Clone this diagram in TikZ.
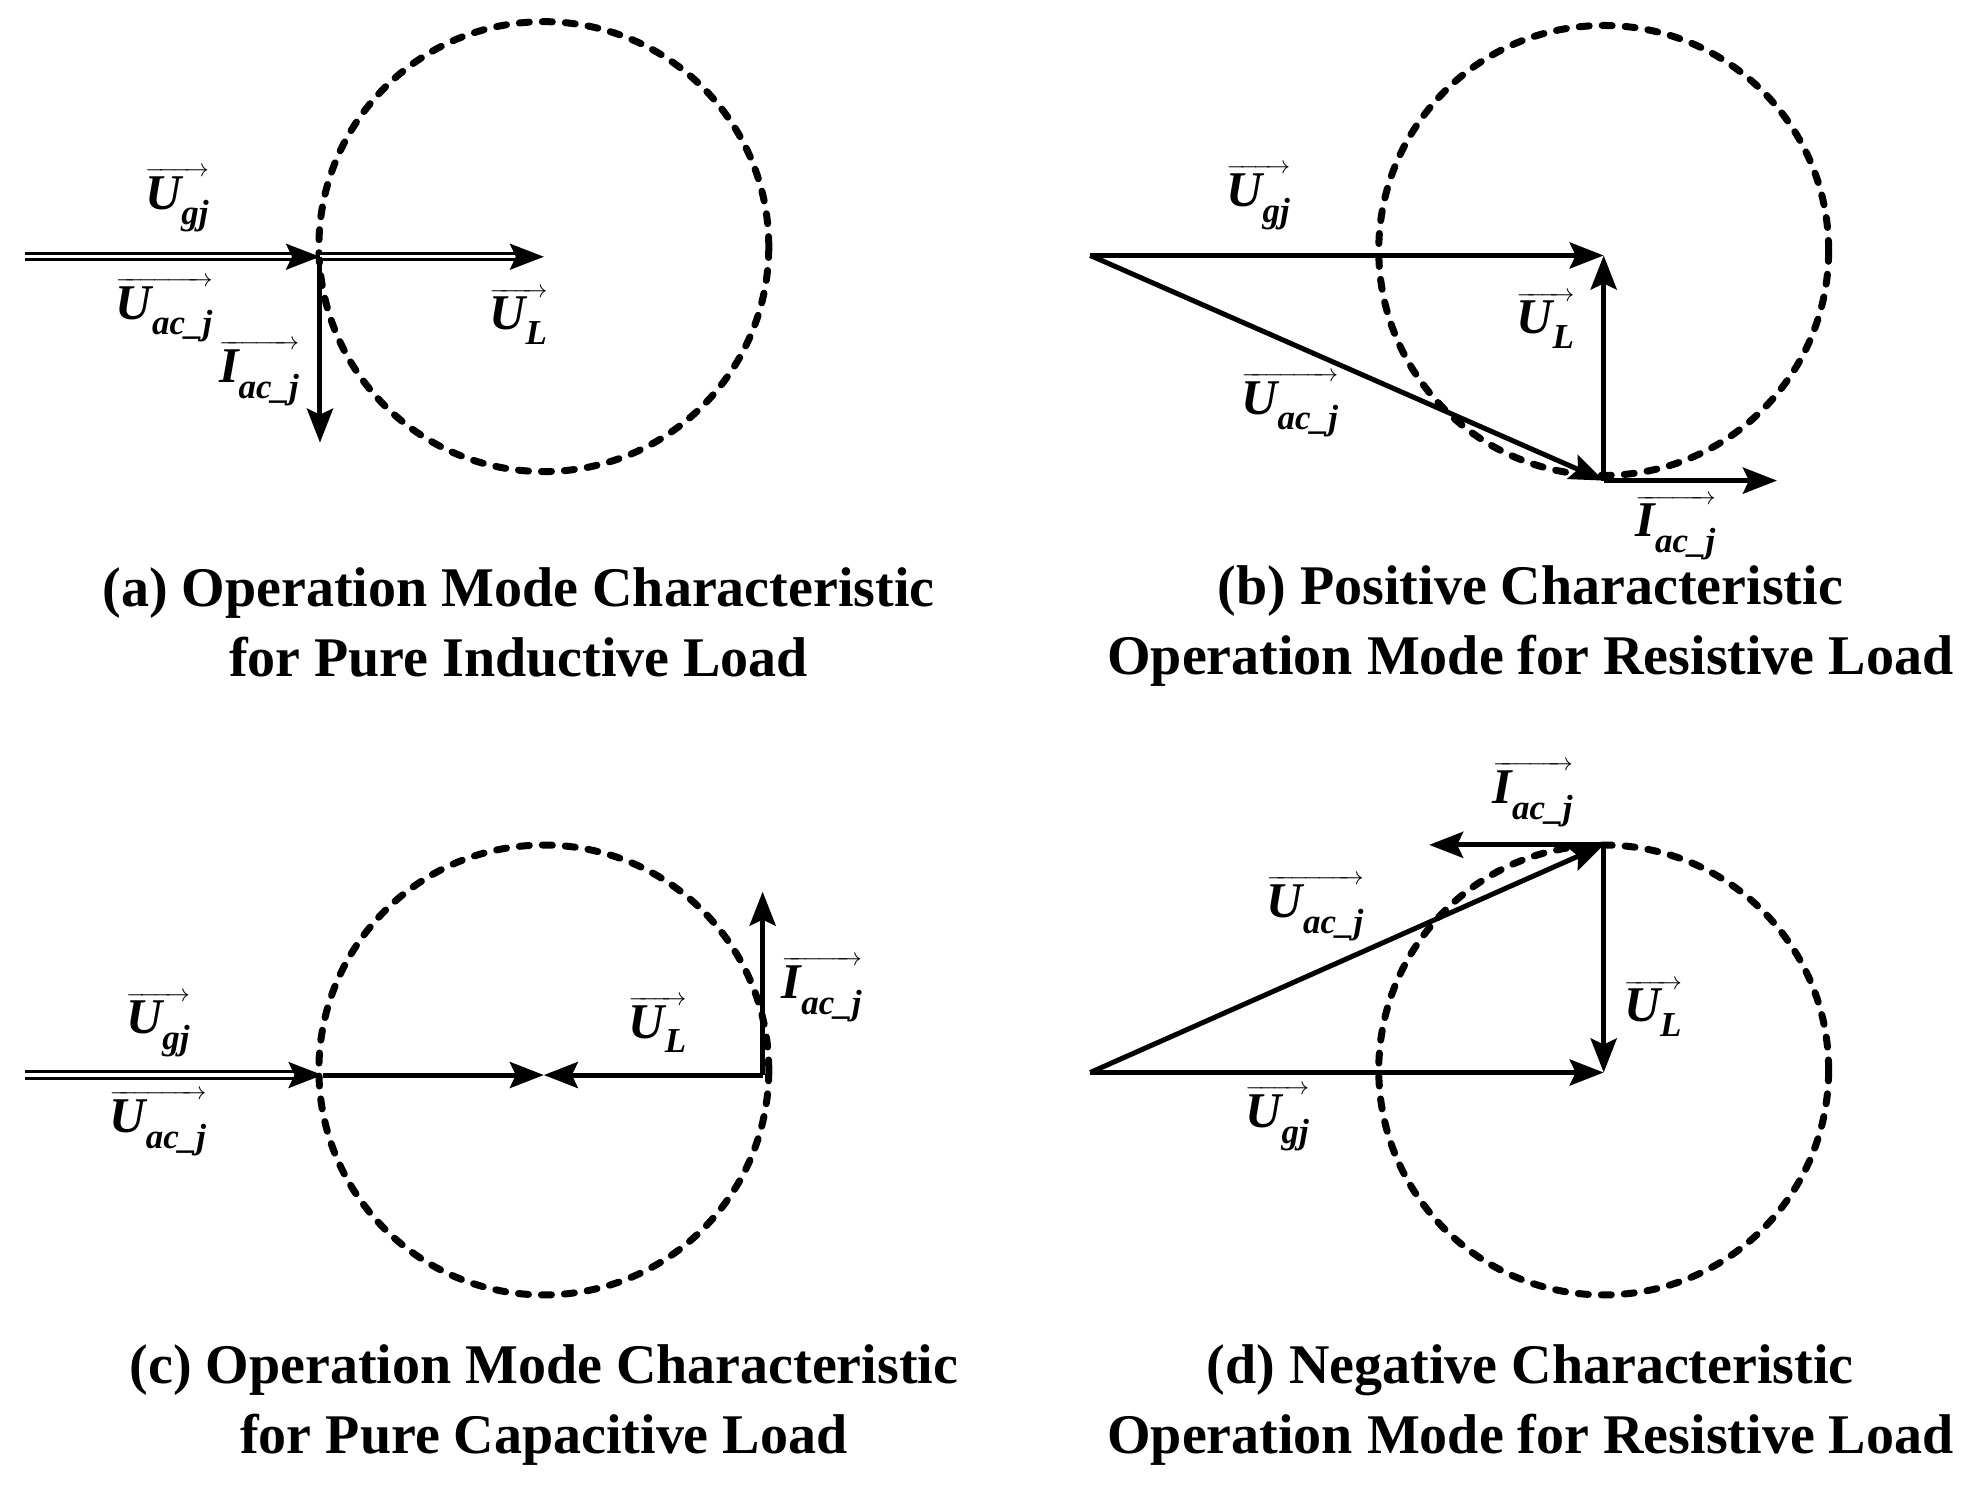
\documentclass[tikz,border=0pt]{standalone}
\usepackage{amsmath}
\usepackage{fontspec}
\setmainfont{Liberation Serif}
\usetikzlibrary{arrows.meta}
\newcommand\vlab[2]{$\overrightarrow{\textbf{\textit{#1}}_{\textbf{\textit{#2}}}}$}
\begin{document}
\begin{tikzpicture}[x=1.265pt,y=-1.265pt,
  vec/.style={line width=5pt,-{Stealth[length=34pt,width=26pt,inset=6pt]}},
  dvec/.style={line width=3pt,double,double distance=3.5pt,-{Stealth[length=34pt,width=26pt,inset=6pt]}},
  circ/.style={line width=7pt,dash pattern=on 10pt off 13pt,line cap=round},
  lab/.style={font=\fontsize{50}{56}\selectfont\bfseries\itshape,inner sep=0pt},
  captxt/.style={font=\fontsize{56}{70}\selectfont\bfseries,align=center,inner sep=0pt}]
\useasboundingbox (0,0) rectangle (1560,1179);
% (a)
\coordinate (a0) at (20,203); \coordinate (a1) at (253,203); \coordinate (a2) at (430,203); \coordinate (a3) at (253,350);
\node[circ,draw,circle,minimum size=450pt,inner sep=0pt] (ca) at (430,195) {};
\draw[dvec] (a0) -- (a1);
\draw[dvec] (a1) -- (a2);
\draw[vec] (a1) -- (a3);
\node[lab] (la1) at (140,158) {\vlab{U}{gj}};
\node[lab] (la2) at (130,245) {\vlab{U}{ac\_j}};
\node[lab] (la3) at (205,295) {\vlab{I}{ac\_j}};
\node[lab] (la4) at (410,250) {\vlab{U}{L}};
\node[captxt] (capa) at (410,492) {(a) Operation Mode Characteristic\\for Pure Inductive Load};
% (b)
\coordinate (b0) at (862,202); \coordinate (b1) at (1268,202); \coordinate (b2) at (1268,380); \coordinate (b3) at (1405,380);
\node[circ,draw,circle,minimum size=450pt,inner sep=0pt] (cb) at (1268,198) {};
\draw[vec] (b0) -- (b1);
\draw[vec] (b0) -- (b2);
\draw[vec] (b2) -- (b1);
\draw[vec] (b2) -- (b3);
\node[lab] (lb1) at (995,156) {\vlab{U}{gj}};
\node[lab] (lb2) at (1222,253) {\vlab{U}{L}};
\node[lab] (lb3) at (1020,320) {\vlab{U}{ac\_j}};
\node[lab] (lb4) at (1325,417) {\vlab{I}{ac\_j}};
\node[captxt] (capb) at (1210,495) {(b) Positive Characteristic\\Operation Mode for Resistive Load};
% (c)
\coordinate (c0) at (20,850); \coordinate (c1) at (255,850); \coordinate (c2) at (430,850); \coordinate (c3) at (603,850); \coordinate (c4) at (603,705);
\node[circ,draw,circle,minimum size=450pt,inner sep=0pt] (cc) at (430,846) {};
\draw[dvec] (c0) -- (c1);
\draw[vec] (c1) -- (c2);
\draw[vec] (c3) -- (c2);
\draw[vec] (c3) -- (c4);
\node[lab] (lc1) at (125,810) {\vlab{U}{gj}};
\node[lab] (lc2) at (125,888) {\vlab{U}{ac\_j}};
\node[lab] (lc3) at (520,810) {\vlab{U}{L}};
\node[lab] (lc4) at (650,782) {\vlab{I}{ac\_j}};
\node[captxt] (capc) at (430,1111) {(c) Operation Mode Characteristic\\for Pure Capacitive Load};
% (d)
\coordinate (d0) at (862,848); \coordinate (d1) at (1268,848); \coordinate (d2) at (1268,668); \coordinate (d3) at (1130,668);
\node[circ,draw,circle,minimum size=450pt,inner sep=0pt] (cd) at (1268,846) {};
\draw[vec] (d0) -- (d1);
\draw[vec] (d0) -- (d2);
\draw[vec] (d2) -- (d1);
\draw[vec] (d2) -- (d3);
\node[lab] (ld1) at (1212,628) {\vlab{I}{ac\_j}};
\node[lab] (ld2) at (1040,718) {\vlab{U}{ac\_j}};
\node[lab] (ld3) at (1307,797) {\vlab{U}{L}};
\node[lab] (ld4) at (1010,884) {\vlab{U}{gj}};
\node[captxt] (capd) at (1210,1111) {(d) Negative Characteristic\\Operation Mode for Resistive Load};
\end{tikzpicture}
\end{document}
